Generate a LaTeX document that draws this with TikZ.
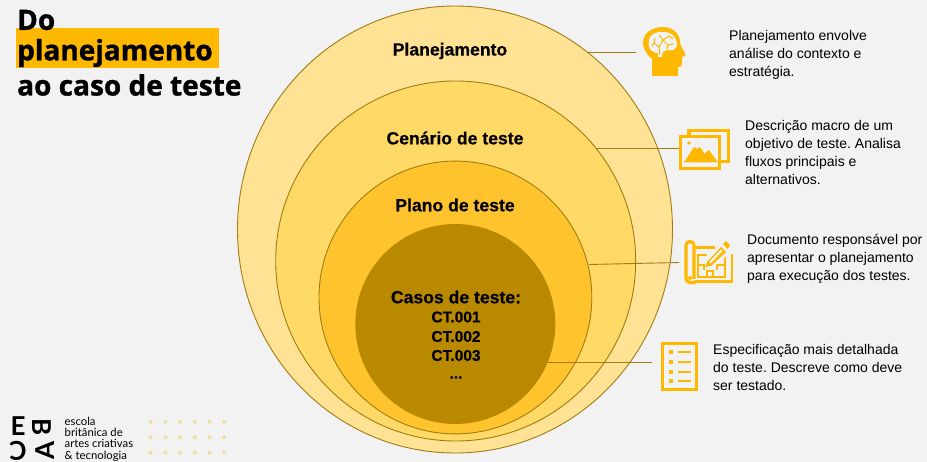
\documentclass[tikz,border=0pt]{standalone}
\usepackage{fontspec}
\setmainfont[BoldFeatures={FakeBold=0.5}]{Liberation Sans}
\newfontfamily\titlefont[BoldFeatures={FakeBold=1.2}]{Open Sans}
\newfontfamily\logofont{Lato}
\usetikzlibrary{shapes.geometric}
\definecolor{pagebg}{HTML}{F2F2F2}
\definecolor{amber}{HTML}{FFB800}
\definecolor{ringedge}{HTML}{A07C12}
\definecolor{ringa}{HTML}{FFE294}
\definecolor{ringb}{HTML}{FFD966}
\definecolor{ringc}{HTML}{FFC42D}
\definecolor{ringd}{HTML}{B98A00}
\definecolor{dotcol}{HTML}{F0DFA0}
\frenchspacing
\tikzset{
  ring/.style={circle, draw=ringedge, line width=0.9pt, inner sep=0pt, outer sep=0pt},
  ringlabel/.style={font=\bfseries\fontsize{17.6}{20}\selectfont, inner sep=0pt},
  ctlabel/.style={font=\bfseries\fontsize{15.5}{18}\selectfont, inner sep=0pt},
  desc/.style={font=\fontsize{14}{18}\selectfont, align=left, anchor=west, inner sep=0pt},
  headline/.style={font=\titlefont\bfseries\fontsize{28}{30}\selectfont, anchor=west, inner sep=0pt},
  lead/.style={draw=ringedge, line width=0.9pt},
  iconline/.style={draw=amber, line width=3.2pt},
  logoletter/.style={font=\logofont\bfseries\fontsize{26}{26}\selectfont, inner sep=0pt},
  logotext/.style={font=\logofont\fontsize{11.3}{11.4}\selectfont, align=left, anchor=west, inner sep=0pt},
}
\begin{document}
\begin{tikzpicture}[x=1pt, y=-1pt]
\useasboundingbox (0,0) rectangle (927,462);
\fill[pagebg] (0,0) rectangle (927,462);

% title
\fill[amber] (16,28) rectangle (219,68);
\node[headline] (titlea) at (17,20) {Do};
\node[headline] (titleb) at (17,53) {planejamento};
\node[headline] (titlec) at (17,85) {ao caso de teste};

% nested rings
\node[ring, ellipse, fill=ringa, minimum width=435pt, minimum height=447pt] (planejamento) at (455,229.5) {};
\node[ring, fill=ringb, minimum size=360pt] (cenario) at (455.7,261) {};
\node[ring, fill=ringc, minimum size=272.8pt] (plano) at (455.4,297.5) {};
\node[circle, fill=ringd, inner sep=0pt, outer sep=0pt, minimum size=200pt] (casos) at (455.3,324) {};

\node[ringlabel] (lblplanejamento) at (450,51) {Planejamento};
\node[ringlabel] (lblcenario) at (455,138) {Cenário de teste};
\node[ringlabel] (lblplano) at (455,205) {Plano de teste};
\node[ringlabel] (lblcasos) at (456,297) {Casos de teste:};
\node[ctlabel] (ctum) at (456,317) {CT.001};
\node[ctlabel] (ctdois) at (456,336.5) {CT.002};
\node[ctlabel] (cttres) at (456,355.5) {CT.003};
\node[ctlabel] (ctmais) at (456,377.5) {...};

% leader lines
\coordinate (brainstart) at (587,52);
\coordinate (brainend) at (636,52);
\coordinate (photostart) at (597,148);
\coordinate (photoend) at (680,148);
\coordinate (planstart) at (589,264.5);
\coordinate (planend) at (679,262.5);
\coordinate (liststart) at (548,362.5);
\coordinate (listend) at (652,362.5);
\draw[lead] (brainstart) -- (brainend);
\draw[lead] (photostart) -- (photoend);
\draw[lead] (planstart) -- (planend);
\draw[lead] (liststart) -- (listend);

% brain icon
\begin{scope}[shift={(664,52)}]
\fill[amber] (-12,24) -- (-12,7) .. controls (-18,2) and (-21,-4) .. (-21,-9)
  .. controls (-21,-19) and (-12,-25) .. (-1,-25)
  .. controls (8,-25) and (15,-19) .. (16,-11)
  .. controls (16,-8) and (17,-5) .. (21,1)
  .. controls (22,3) and (21,4) .. (18,5)
  -- (18,12) .. controls (18,15) and (16,15) .. (14,15) -- (14,24) -- cycle;
\fill[pagebg] (-15,-11) .. controls (-15,-18) and (-7,-21) .. (-1,-20)
  .. controls (6,-21) and (13,-15) .. (13,-8)
  .. controls (13,-2) and (8,-1) .. (3,-2)
  .. controls (0,-2) and (-2,0) .. (-2,5) -- (-6,5) -- (-6,1)
  .. controls (-13,1) and (-17,-5) .. (-15,-11) -- cycle;
\draw[amber, line width=1pt] (-4,3) -- (-5,-5) -- (-10,-9) -- (-12,-6) (-10,-9) -- (-9,-14)
  (-5,-5) -- (-1,-12) -- (-5,-17) (-1,-12) -- (5,-16) -- (9,-13)
  (-1,-12) -- (4,-7) -- (10,-8) (4,-7) -- (3,-3);
\end{scope}

% picture icon
\begin{scope}[shift={(700,150)}]
\draw[iconline] (-11,-13) -- (-11,-19.5) -- (28.5,-19.5) -- (28.5,11.5) -- (21,11.5);
\draw[iconline, fill=pagebg] (-19.5,-13.5) rectangle (19.5,18.5);
\fill[amber] (-16,12.5) -- (-3,-8) -- (10,12.5) -- cycle;
\fill[pagebg] (-7,-2) -- (-3,-8) -- (1,-2) -- (-1,-3) -- (-3,-1) -- (-5,-3) -- cycle;
\fill[amber] (4,4) -- (9,0) -- (18,12.5) -- (10,12.5) -- cycle;
\fill[amber] (-11,-7) circle (1.8);
\end{scope}

% blueprint icon
\begin{scope}[shift={(708,262)}]
\draw[iconline, rounded corners=4pt] (-12.5,20.5) -- (-22,20.5) -- (-22,-20.5) -- (-14,-20.5) -- (-14,17);
\draw[amber, line width=2.8pt] (-13,-14.5) -- (7,-14.5) (24,-8) -- (24,19.5) -- (-13,19.5);
\fill[amber] (-18,16) circle (2);
\draw[amber, line width=1.4pt] (-1,-7) -- (-10,-7) -- (-10,15) -- (17,15) -- (17,-7) -- (13,-7)
  (-10,3) -- (-4,3) -- (-4,8) (17,3) -- (9,3) -- (9,8) (-1,15) -- (-1,9) -- (5,9) -- (5,15);
\fill[pagebg] (-3,3) -- (14,-14) -- (21,-8) -- (4,6) -- cycle;
\fill[amber] (-1,-0) -- (13,-15) -- (18,-10) -- (3,4) -- (-3,5) -- cycle;
\fill[amber] (15,-18) -- (18,-21) -- (22,-16.5) -- (19.5,-13) -- cycle;
\fill[pagebg] (1,-0) -- (13,-12.5) -- (14.5,-11) -- (2.5,1.5) -- cycle;
\end{scope}

% list icon
\begin{scope}[shift={(679.5,366.5)}]
\draw[iconline] (-17,-23) rectangle (17,23);
\foreach \rowy in {-14.5,-4.5,5.5,14.5} {
  \fill[amber] (-11,\rowy-2.2) rectangle (-6.5,\rowy+2.2);
  \fill[amber] (-1.5,\rowy-1) rectangle (11.5,\rowy+1);
}
\end{scope}

% descriptions
\node[desc] (descbrain) at (729,55) {Planejamento envolve\\análise do contexto e\\estratégia.};
\node[desc] (descphoto) at (745,152) {Descrição macro de um\\objetivo de teste. Analisa\\fluxos principais e\\alternativos.};
\node[desc] (descplan) at (747,259) {Documento responsável por\\apresentar o planejamento\\para execução dos testes.};
\node[desc] (desclist) at (713,367.5) {Especificação mais detalhada\\do teste. Descreve como deve\\ser testado.};

% logo
\node[logoletter] (logoe) at (18,426) {E};
\node[logoletter, rotate=-90] (logob) at (42,427) {B};
\node[logoletter, rotate=180] (logoc) at (18,451) {C};
\node[logoletter, rotate=90] (logoa) at (45,450) {A};
\node[logotext] (logotxt) at (64.5,439) {escola\\britânica de\\artes criativas\\\& tecnologia};
\foreach \dotx in {150.7,165.4,180.1,194.8,209.5,224.2} {
  \foreach \doty in {421.7,437.2,452.7} {
    \fill[dotcol] (\dotx,\doty) circle (2);
  }
}
\end{tikzpicture}
\end{document}
